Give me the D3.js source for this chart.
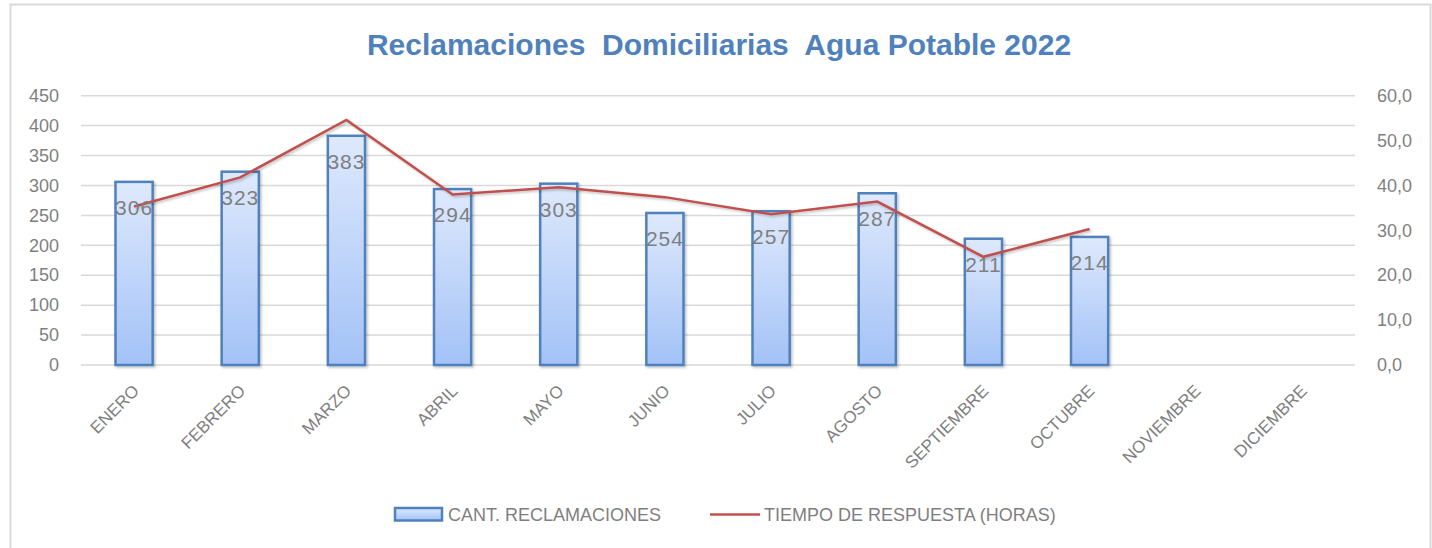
<!DOCTYPE html>
<html><head><meta charset="utf-8">
<script src="https://cdn.jsdelivr.net/npm/d3@7"></script>
<style>
html,body{margin:0;padding:0;background:#fff;}
text{font-family:"Liberation Sans",Arial,sans-serif;}
</style></head>
<body>
<svg id="chart" width="1432" height="548"></svg>
<script>
const months = ["ENERO","FEBRERO","MARZO","ABRIL","MAYO","JUNIO","JULIO","AGOSTO","SEPTIEMBRE","OCTUBRE","NOVIEMBRE","DICIEMBRE"];
const reclamaciones = [306,323,383,294,303,254,257,287,211,214,null,null];
const tiempoRespuesta = [35.3,41.8,54.6,38.0,39.6,37.4,33.6,36.4,24.1,30.3,null,null];
const leftTicks = [0,50,100,150,200,250,300,350,400,450];
const rightTicks = [0,10,20,30,40,50,60];
const title = "Reclamaciones  Domiciliarias  Agua Potable 2022";
const legendBar = "CANT. RECLAMACIONES";
const legendLine = "TIEMPO DE RESPUESTA (HORAS)";

const svg = d3.select("#chart");
const W = 1432, H = 548;
const plot = {left:81, right:1355, top:95.7, bottom:365};

const defs = svg.append("defs");
const grad = defs.append("linearGradient").attr("id","barGrad").attr("x1",0).attr("y1",0).attr("x2",0).attr("y2",1);
grad.append("stop").attr("offset","0%").attr("stop-color","#dee9fc");
grad.append("stop").attr("offset","100%").attr("stop-color","#a3c2f7");
const lg = defs.append("linearGradient").attr("id","legGrad").attr("x1",0).attr("y1",0).attr("x2",0).attr("y2",1);
lg.append("stop").attr("offset","0%").attr("stop-color","#dee9fc");
lg.append("stop").attr("offset","100%").attr("stop-color","#a3c2f7");
const sh = defs.append("filter").attr("id","shadow").attr("x","-20%").attr("y","-20%").attr("width","140%").attr("height","140%");
sh.append("feDropShadow").attr("dx",1.5).attr("dy",1.5).attr("stdDeviation",1.2).attr("flood-color","#000").attr("flood-opacity",0.25);

// border
svg.append("rect").attr("x",10.5).attr("y",4.5).attr("width",1420).attr("height",560)
  .attr("fill","none").attr("stroke","#d9d9d9").attr("stroke-width",2);

const x = d3.scaleBand().domain(months).range([plot.left, plot.right]).paddingInner(0.65).paddingOuter(0.325);
const yL = d3.scaleLinear().domain([0,450]).range([plot.bottom, plot.top]);
const yR = d3.scaleLinear().domain([0,60]).range([plot.bottom, plot.top]);

// gridlines
svg.append("g").selectAll("line").data(leftTicks).join("line")
  .attr("x1",plot.left).attr("x2",plot.right)
  .attr("y1",d=>yL(d)).attr("y2",d=>yL(d))
  .attr("stroke","#d9d9d9").attr("stroke-width",1.5);

// left axis
const axL = svg.append("g").attr("transform",`translate(${plot.left},0)`)
  .call(d3.axisLeft(yL).tickValues(leftTicks).tickSize(0).tickPadding(22).tickFormat(d3.format("d")));
axL.select(".domain").remove();
axL.selectAll("text").attr("font-size",18).attr("fill","#7f7f7f").style("font-family","'Liberation Sans',Arial,sans-serif");

// right axis
const fmtR = d => d3.format(".1f")(d).replace(".",",");
const axR = svg.append("g").attr("transform",`translate(${plot.right},0)`)
  .call(d3.axisRight(yR).tickValues(rightTicks).tickSize(0).tickPadding(22).tickFormat(fmtR));
axR.select(".domain").remove();
axR.selectAll("text").attr("font-size",18).attr("fill","#7f7f7f").style("font-family","'Liberation Sans',Arial,sans-serif");

// x axis labels
const axX = svg.append("g").attr("transform",`translate(0,${plot.bottom})`)
  .call(d3.axisBottom(x).tickSize(0).tickPadding(0));
axX.select(".domain").remove();
axX.selectAll(".tick text")
  .attr("font-size",17).attr("fill","#7f7f7f")
  .style("font-family","'Liberation Sans',Arial,sans-serif")
  .attr("text-anchor","end").attr("dy",null).attr("y",null)
  .attr("transform","translate(6,27) rotate(-45)");

// bars
const barData = months.map((m,i)=>({m, v:reclamaciones[i]})).filter(d=>d.v!=null);
svg.append("g").selectAll("rect").data(barData).join("rect")
  .attr("x",d=>x(d.m)).attr("width",x.bandwidth())
  .attr("y",d=>yL(d.v)).attr("height",d=>yL(0)-yL(d.v))
  .attr("fill","url(#barGrad)").attr("stroke","#4f81bd").attr("stroke-width",2.5)
  .attr("filter","url(#shadow)");

// line
const lineData = months.map((m,i)=>({m, v:tiempoRespuesta[i]})).filter(d=>d.v!=null);
const line = d3.line().x(d=>x(d.m)+x.bandwidth()/2).y(d=>yR(d.v));
svg.append("path").datum(lineData).attr("d",line)
  .attr("fill","none").attr("stroke","#c0504d").attr("stroke-width",2.5)
  .attr("stroke-linejoin","miter").attr("filter","url(#shadow)");

// data labels
svg.append("g").selectAll("text").data(barData).join("text")
  .attr("x",d=>x(d.m)+x.bandwidth()/2).attr("y",d=>yL(d.v)+33)
  .attr("text-anchor","middle").attr("font-size",21).attr("letter-spacing",1).attr("fill","#7f7f7f")
  .text(d=>d.v);

// title
svg.append("text").attr("x",(W)/2+3).attr("y",55).attr("text-anchor","middle")
  .attr("font-size",30).attr("font-weight","bold").attr("fill","#4f81bd")
  .style("white-space","pre").attr("xml:space","preserve")
  .text(title);

// legend
const leg = svg.append("g");
leg.append("rect").attr("x",395).attr("y",508).attr("width",47).attr("height",12.5)
  .attr("fill","url(#legGrad)").attr("stroke","#4f81bd").attr("stroke-width",2.5);
leg.append("text").attr("x",448).attr("y",520.5).attr("font-size",18).attr("fill","#7f7f7f").text(legendBar);
leg.append("line").attr("x1",710).attr("x2",760).attr("y1",514.5).attr("y2",514.5)
  .attr("stroke","#c0504d").attr("stroke-width",2.5);
leg.append("text").attr("x",764).attr("y",520.5).attr("font-size",18).attr("fill","#7f7f7f").text(legendLine);
</script>
</body></html>
